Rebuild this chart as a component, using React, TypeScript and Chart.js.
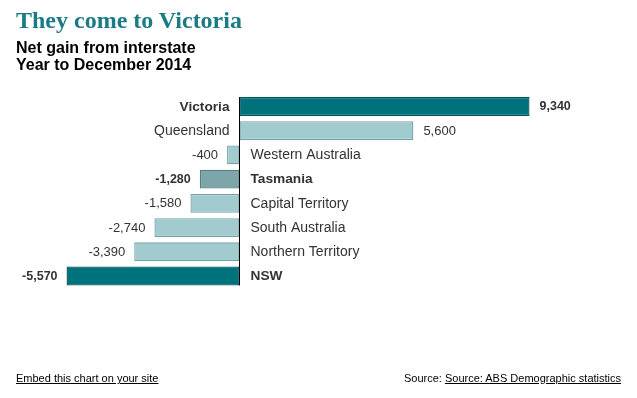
import React, { useEffect, useRef } from "react";
import { Chart, registerables } from "chart.js";

Chart.register(...registerables);

const categories = [
  "Victoria",
  "Queensland",
  "Western Australia",
  "Tasmania",
  "Capital Territory",
  "South Australia",
  "Northern Territory",
  "NSW",
];
const netGain = [9340, 5600, -400, -1280, -1580, -2740, -3390, -5570];
const highlighted = [true, false, false, true, false, false, false, true];

const DARK = "#00727b";
const DARK_BORDER = "#00535a";
const LIGHT = "#a1cbcf";
const LIGHT_BORDER = "#77a3a7";
const MID = "#7ca6a9";
const MID_BORDER = "#557f83";

function fillFor(i: number) {
  if (!highlighted[i]) return LIGHT;
  return i === 3 ? MID : DARK;
}
function borderFor(i: number) {
  if (!highlighted[i]) return LIGHT_BORDER;
  return i === 3 ? MID_BORDER : DARK_BORDER;
}

const W = 637;
const H = 398;
const ZERO_X = 239.5;
const PX_PER_UNIT = 290 / 9340;
const TOP = 94.4;
const BOTTOM = 288.1;
const FAMILY = '"Liberation Sans", Arial, sans-serif';

const labelsPlugin = {
  id: "barLabels",
  afterDatasetsDraw(chart: any) {
    const ctx = chart.ctx;
    const meta = chart.getDatasetMeta(0);
    const xScale = chart.scales.x;
    const zero = xScale.getPixelForValue(0);
    ctx.save();
    ctx.textBaseline = "middle";
    ctx.fillStyle = "#333333";
    meta.data.forEach((bar: any, i: number) => {
      const v = netGain[i];
      const bold = highlighted[i];
      const catFont = bold ? `bold 13.7px ${FAMILY}` : `14px ${FAMILY}`;
      const valFont = bold ? `bold 12.5px ${FAMILY}` : `13px ${FAMILY}`;
      const y = bar.y + 0.5;
      const valText = v.toLocaleString("en-US");
      if (v >= 0) {
        ctx.font = catFont;
        ctx.textAlign = "right";
        ctx.fillText(categories[i], zero - 10, y);
        ctx.font = valFont;
        ctx.textAlign = "left";
        ctx.fillText(valText, bar.x + 10, y);
      } else {
        ctx.font = catFont;
        ctx.textAlign = "left";
        ctx.fillText(categories[i], zero + 11, y);
        ctx.font = valFont;
        ctx.textAlign = "right";
        ctx.fillText(valText, bar.x - 9, y);
      }
    });
    const first = meta.data[0];
    const last = meta.data[meta.data.length - 1];
    ctx.strokeStyle = "#000000";
    ctx.lineWidth = 1;
    ctx.beginPath();
    ctx.moveTo(zero, first.y - first.height / 2);
    ctx.lineTo(zero, last.y + last.height / 2);
    ctx.stroke();
    ctx.restore();
  },
};

export default function App() {
  const ref = useRef<HTMLCanvasElement>(null);

  useEffect(() => {
    document.body.style.margin = "0";
    const canvas = ref.current;
    if (!canvas) return;
    const chart = new Chart(canvas, {
      type: "bar",
      data: {
        labels: categories,
        datasets: [
          {
            data: netGain,
            backgroundColor: netGain.map((_, i) => fillFor(i)),
            borderColor: netGain.map((_, i) => borderFor(i)),
            borderWidth: 1.3,
            borderSkipped: false,
            barPercentage: 0.78,
            categoryPercentage: 1,
          },
        ],
      },
      options: {
        indexAxis: "y",
        responsive: false,
        animation: false,
        events: [],
        layout: { padding: { top: TOP, bottom: H - BOTTOM, left: 0, right: 0 } },
        plugins: {
          legend: { display: false },
          tooltip: { enabled: false },
          title: { display: false },
        },
        scales: {
          x: {
            display: false,
            min: -ZERO_X / PX_PER_UNIT,
            max: (W - ZERO_X) / PX_PER_UNIT,
          },
          y: { display: false },
        },
      },
      plugins: [labelsPlugin],
    });
    return () => chart.destroy();
  }, []);

  return (
    <div style={{ position: "relative", width: W, height: H, background: "#fff", overflow: "hidden" }}>
      <canvas ref={ref} width={W} height={H} style={{ position: "absolute", left: 0, top: 0 }} />
      <div
        style={{
          position: "absolute",
          left: 16,
          top: 5,
          fontFamily: '"Liberation Serif", serif',
          fontWeight: "bold",
          fontSize: 24,
          lineHeight: "30px",
          color: "#1b7b85",
          whiteSpace: "nowrap",
        }}
      >
        They come to Victoria
      </div>
      <div
        style={{
          position: "absolute",
          left: 16,
          top: 39,
          fontFamily: FAMILY,
          fontWeight: "bold",
          fontSize: 16,
          lineHeight: "17px",
          color: "#000",
          whiteSpace: "nowrap",
        }}
      >
        <div>Net gain from interstate</div>
        <div>Year to December 2014</div>
      </div>
      <div
        style={{
          position: "absolute",
          left: 16,
          top: 371,
          fontFamily: FAMILY,
          fontSize: 11,
          lineHeight: "14px",
          color: "#000",
          textDecoration: "underline",
          whiteSpace: "nowrap",
        }}
      >
        Embed this chart on your site
      </div>
      <div
        style={{
          position: "absolute",
          right: 16,
          top: 371,
          fontFamily: FAMILY,
          fontSize: 11,
          lineHeight: "14px",
          color: "#000",
          whiteSpace: "nowrap",
        }}
      >
        Source: <span style={{ textDecoration: "underline" }}>Source: ABS Demographic statistics</span>
      </div>
    </div>
  );
}
